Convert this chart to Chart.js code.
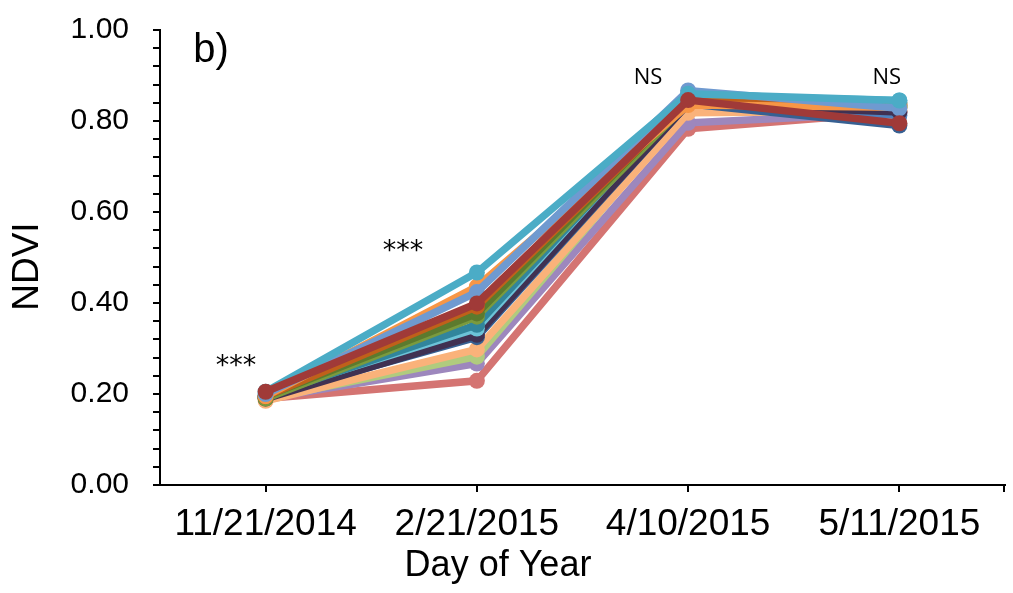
<!DOCTYPE html>
<html>
<head>
<meta charset="utf-8">
<script src="https://cdn.jsdelivr.net/npm/chart.js@4/dist/chart.umd.min.js"></script>
<style>
  html, body { margin: 0; padding: 0; background: #fff; }
  #wrap { width: 1013px; height: 593px; }
</style>
</head>
<body>
<div id="wrap"><canvas id="c" width="1013" height="593"></canvas></div>
<script>
// Sampling dates
const dates = ['11/21/2014', '2/21/2015', '4/10/2015', '5/11/2015'];

// NDVI per plot line, one value per date
const lineDarkRed   = [0.205, 0.399, 0.846, 0.795];
const lineAqua      = [0.205, 0.467, 0.860, 0.845];
const lineOrange    = [0.195, 0.436, 0.835, 0.830];
const lineSky       = [0.200, 0.424, 0.867, 0.828];
const lineRust      = [0.195, 0.392, 0.845, 0.836];
const lineOlive     = [0.195, 0.377, 0.848, 0.834];
const lineGreen     = [0.190, 0.370, 0.840, 0.832];
const lineTeal      = [0.195, 0.352, 0.852, 0.840];
const lineLightAqua = [0.200, 0.344, 0.856, 0.845];
const lineNavy      = [0.190, 0.330, 0.838, 0.820];
const lineBlue      = [0.195, 0.335, 0.842, 0.812];
const lineDarkBlue  = [0.195, 0.325, 0.838, 0.790];
const linePeach     = [0.185, 0.298, 0.818, 0.822];
const lineLime      = [0.190, 0.282, 0.828, 0.830];
const linePurple    = [0.190, 0.267, 0.796, 0.818];
const lineSalmon    = [0.190, 0.229, 0.783, 0.820];

// Significance marks above each date
const sigLabels = ['***', '***', 'NS', 'NS'];

// First entry is painted on top
const seriesList = [
  lineDarkRed, lineAqua, lineSky, lineOrange, lineRust, lineOlive, lineGreen,
  lineTeal, lineLightAqua, lineNavy, lineBlue, lineDarkBlue, linePeach,
  lineLime, linePurple, lineSalmon
];
const palette = [
  '#A03A38', '#4BACC6', '#6F9AD0', '#F79646', '#C0601A', '#5C7A2E', '#7A9A3E',
  '#31859C', '#6CC3D8', '#403152', '#4F81BD', '#376092', '#FAB27A',
  '#B0CB7E', '#9D87BD', '#D47472'
];

const datasets = seriesList.map((vals, i) => ({
  data: vals,
  borderColor: palette[i],
  backgroundColor: palette[i],
  borderWidth: 7.5,
  pointRadius: 8,
  pointHoverRadius: 8,
  pointBorderWidth: 0,
  tension: 0,
  fill: false
}));

const textFont = '"Liberation Sans", Arial, sans-serif';

// Panel letter, axis titles, significance marks and the closing tick of the x axis
const annotate = {
  id: 'annotate',
  afterDraw(chart) {
    const { ctx, chartArea, scales } = chart;
    const x = scales.x, y = scales.y;
    const step = x.getPixelForValue(1) - x.getPixelForValue(0);
    ctx.save();
    ctx.fillStyle = '#000';
    ctx.textAlign = 'center';
    ctx.textBaseline = 'middle';

    ctx.font = '40px ' + textFont;
    ctx.fillText('b)', chartArea.left + 51, y.getPixelForValue(0.955));

    ctx.font = '36px ' + textFont;
    ctx.fillText('Day of Year', x.getPixelForValue(1) + 0.1 * step, chartArea.bottom + 81);

    ctx.save();
    ctx.translate(28, y.getPixelForValue(0.48));
    ctx.rotate(-Math.PI / 2);
    ctx.font = '37px ' + textFont;
    ctx.fillText('NDVI', 0, 0);
    ctx.restore();

    const sigPos = [[-0.14, 0.27], [-0.35, 0.523], [-0.19, 0.895], [-0.06, 0.895]];
    sigLabels.forEach((t, i) => {
      const px = x.getPixelForValue(i) + sigPos[i][0] * step;
      const py = y.getPixelForValue(sigPos[i][1]);
      if (t === 'NS') {
        ctx.font = '22px "Open Sans", sans-serif';
        ctx.fillText(t, px, py);
      } else {
        ctx.font = '27px "DejaVu Sans", sans-serif';
        ctx.fillText(t, px, py + 5);
      }
    });

    ctx.strokeStyle = '#000';
    ctx.lineWidth = 2;
    ctx.beginPath();
    ctx.moveTo(chartArea.right - 1, chartArea.bottom);
    ctx.lineTo(chartArea.right - 1, chartArea.bottom + 7);
    ctx.stroke();
    ctx.restore();
  }
};

new Chart(document.getElementById('c'), {
  type: 'line',
  data: { labels: dates, datasets },
  options: {
    responsive: false,
    animation: false,
    events: [],
    layout: { padding: { top: 30, right: -4, left: 0, bottom: 0 } },
    plugins: { legend: { display: false }, tooltip: { enabled: false } },
    scales: {
      x: {
        offset: true,
        grid: { offset: false, drawOnChartArea: false, drawTicks: true, tickLength: 7, color: '#000', lineWidth: 2 },
        border: { color: '#000', width: 2 },
        ticks: { color: '#000', font: { family: textFont, size: 37 }, padding: 11, maxRotation: 0 },
        title: { display: false },
        afterFit(s) { s.height = 108; s.paddingLeft = 0; s.paddingRight = 0; }
      },
      y: {
        min: 0, max: 1,
        ticks: {
          stepSize: 0.04,
          color: '#000',
          font: { family: textFont, size: 30 },
          padding: 24,
          autoSkip: false,
          callback: v => (Math.round(v * 100) % 20 === 0 ? v.toFixed(2) : '')
        },
        grid: { drawOnChartArea: false, drawTicks: true, tickLength: 7, color: '#000', lineWidth: 2 },
        border: { color: '#000', width: 2 },
        title: { display: false },
        afterFit(s) { s.width = 160; s.paddingTop = 0; s.paddingBottom = 0; }
      }
    }
  },
  plugins: [annotate]
});
</script>
</body>
</html>
